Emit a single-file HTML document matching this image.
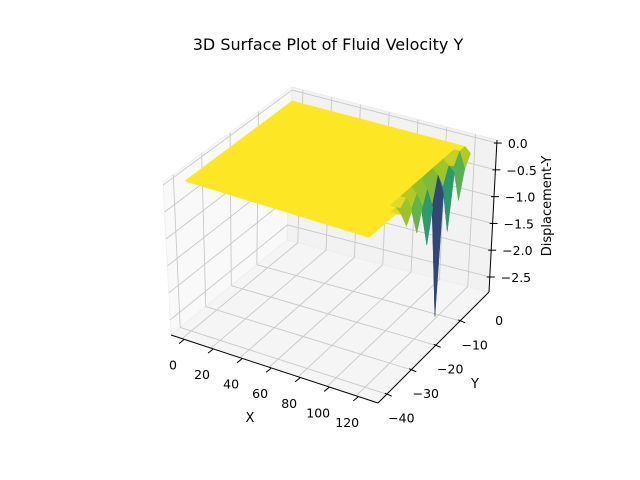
<!DOCTYPE html>
<html><head><meta charset="utf-8"><style>
html,body{margin:0;padding:0;background:#fff;}
svg{display:block;font-family:"DejaVu Sans","Liberation Sans",sans-serif;}
</style></head><body>
<svg id="chart" width="640" height="480" viewBox="0 0 640 480">
<rect width="640" height="480" fill="#fff"/>
<text x="328" y="50" text-anchor="middle" font-size="16" fill="#000">3D Surface Plot of Fluid Velocity Y</text>
<g id="panes"></g>
<g id="grid"></g>
<g id="axes"></g>
<g id="surface"></g>
<text x="250" y="422" text-anchor="middle" font-size="13">X</text>
<text x="475" y="388" text-anchor="middle" font-size="13">Y</text>
<text x="0" y="0" transform="translate(551,206) rotate(-90)" text-anchor="middle" font-size="13">Displacement-Y</text>
</svg>
<script>
// ---- data ----
const xs = [0,4,8,12,16,20,24,28,32,36,40,44,48,52,56,60,64,68,72,76,80,84,88,92,96,100,104,108,112,116,120,124];
const ys = [-30,-28,-26,-24,-22,-20,-18,-16,-14,-12,-10,-8,-6,-4,-2,0,2,4,6,8];
// displacement along the last three x columns (x=116,120,124), one value per y row; rest of surface is 0
const zCol116 = [0,0,0,0,0,0,0,0,0,0,0,0,0,0,0,0,0,0,0,0];
const zCol120 = [0,0,0,0,0,0,0,-0.1,0,-0.3,-0.1,-0.5,-0.2,-0.6,-0.1,-0.4,-0.1,-0.2,0,0];
const zCol124 = [0,0,0,0,0,0,-0.1,-0.4,-0.2,-0.7,-0.3,-1.1,-0.5,-2.6,-0.4,-1.2,-0.2,-0.8,-0.3,-0.1];
const xTicks = [0,20,40,60,80,100,120];
const yTicks = [-40,-30,-20,-10,0];
const zTicks = [0,-0.5,-1,-1.5,-2,-2.5];
const zTickLabels = ["0.0","\u22120.5","\u22121.0","\u22121.5","\u22122.0","\u22122.5"];

// ---- projection (axis box) ----
const XR=[-7.6,135], YR=[-33.6,11.8], ZR=[-2.78,0.057];
const C={
 "000":[171,335],"100":[378,403],"010":[287,240],"110":[489,292],
 "001":[163,182],"101":[376,248],"011":[292,87],"111":[497,140]};
function lerp(a,b,t){return [a[0]+(b[0]-a[0])*t,a[1]+(b[1]-a[1])*t];}
function projUVW(u,v,w){
  const a=lerp(C["000"],C["100"],u), b=lerp(C["010"],C["110"],u);
  const c=lerp(C["001"],C["101"],u), d=lerp(C["011"],C["111"],u);
  return lerp(lerp(a,b,v),lerp(c,d,v),w);
}
const U=x=>(x-XR[0])/(XR[1]-XR[0]), V=y=>(y-YR[0])/(YR[1]-YR[0]), W=z=>(z-ZR[0])/(ZR[1]-ZR[0]);
function P(x,y,z){return projUVW(U(x),V(y),W(z));}
const NS='http://www.w3.org/2000/svg';
function mk(tag,attrs,parent){const e=document.createElementNS(NS,tag);for(const k in attrs)e.setAttribute(k,attrs[k]);parent.appendChild(e);return e;}
const pts=a=>a.map(p=>p[0].toFixed(1)+','+p[1].toFixed(1)).join(' ');

// panes
const panes=document.getElementById('panes');
let pn=mk('polygon',{points:pts([projUVW(0,0,0),projUVW(0,1,0),projUVW(0,1,1),projUVW(0,0,1)]),fill:'#f9f9f9',stroke:'#f0f0f0'},panes);

pn=mk('polygon',{points:pts([projUVW(0,1,0),projUVW(1,1,0),projUVW(1,1,1),projUVW(0,1,1)]),fill:'#f2f2f2',stroke:'#ebebeb'},panes);

pn=mk('polygon',{points:pts([projUVW(0,0,0),projUVW(1,0,0),projUVW(1,1,0),projUVW(0,1,0)]),fill:'#f5f5f5',stroke:'#eeeeee'},panes);


// gridlines
const grid=document.getElementById('grid');
function gl(a,b,name){const l=mk('line',{x1:a[0],y1:a[1],x2:b[0],y2:b[1],stroke:'#c8c8c8','stroke-width':0.9},grid);
 }
xTicks.forEach(t=>{const u=U(t);if(u<0||u>1)return;
 gl(projUVW(u,0,0),projUVW(u,1,0),'x-gridline');gl(projUVW(u,1,0),projUVW(u,1,1),'x-gridline');});
yTicks.forEach(t=>{const v=V(t);if(v<0||v>1)return;
 gl(projUVW(0,v,0),projUVW(1,v,0),'y-gridline');gl(projUVW(0,v,0),projUVW(0,v,1),'y-gridline');});
zTicks.forEach(t=>{const w=W(t);if(w<0||w>1)return;
 gl(projUVW(0,0,w),projUVW(0,1,w),'z-gridline');gl(projUVW(0,1,w),projUVW(1,1,w),'z-gridline');});

// axes lines + ticks
const axes=document.getElementById('axes');
function al(a,b,name){const l=mk('line',{x1:a[0],y1:a[1],x2:b[0],y2:b[1],stroke:'#000','stroke-width':1},axes);
 }
al(projUVW(0,0,0),projUVW(1,0,0),'x-axis-line');
al(projUVW(1,0,0),projUVW(1,1,0),'y-axis-line');
al(projUVW(1,1,0),projUVW(1,1,1),'z-axis-line');
function txt(s,x,y,anchor,name){const t=mk('text',{x:x,y:y,'text-anchor':anchor,'font-size':12.5,fill:'#000'},axes);t.textContent=s;
 }
xTicks.forEach(t=>{const p=projUVW(U(t),0,0);
 al([p[0]+2,p[1]+1],[p[0]-3,p[1]+5],'x-tick');
 txt(String(t),p[0]-9,p[1]+31,'middle','x-tick-label');});
yTicks.forEach(t=>{const p=projUVW(1,V(t),0);
 if(V(t)>=0) al([p[0]-2,p[1]-1],[p[0]+5,p[1]+2],'y-tick');
 txt(String(t).replace('-','\u2212'),p[0]+39,p[1]+4,'middle','y-tick-label');});
zTicks.forEach((t,i)=>{const p=projUVW(1,1,W(t));
 al([p[0]-3,p[1]],[p[0]+5,p[1]],'z-tick');
 txt(zTickLabels[i],p[0]+11,p[1]+5,'start','z-tick-label');});

// viridis
const VIR=[[68,1,84],[72,40,120],[62,74,137],[49,104,142],[38,130,142],[31,158,137],[53,183,121],[109,205,89],[180,222,44],[253,231,37]];
function viridis(t){t=Math.max(0,Math.min(1,t))*(VIR.length-1);const i=Math.min(Math.floor(t),VIR.length-2),f=t-i;
 return VIR[i].map((c,k)=>c+(VIR[i+1][k]-c)*f);}

// surface
function zAt(i,j){ if(i===xs.length-1) return zCol124[j]; if(i===xs.length-2) return zCol120[j]; if(i===xs.length-3) return zCol116[j]; return 0;}
const allZ=[].concat(zCol116,zCol120,zCol124,[0]);
const zmin=Math.min(...allZ), zmax=Math.max(...allZ);
const faces=[];
for(let i=0;i<xs.length-1;i++)for(let j=0;j<ys.length-1;j++){
 const q=[[i,j],[i+1,j],[i+1,j+1],[i,j+1]].map(([a,b])=>[xs[a],ys[b],zAt(a,b)]);
 const zm=Math.min(...q.map(p=>p[2]))*0.6+q.reduce((s,p)=>s+p[2],0)/4*0.4;
 const key=U((xs[i]+xs[i+1])/2)-V((ys[j]+ys[j+1])/2);
 const ax=[q[2][0]-q[0][0],q[2][1]-q[0][1],(q[2][2]-q[0][2])*40], bx=[q[3][0]-q[1][0],q[3][1]-q[1][1],(q[3][2]-q[1][2])*40];
 let n=[ax[1]*bx[2]-ax[2]*bx[1],ax[2]*bx[0]-ax[0]*bx[2],ax[0]*bx[1]-ax[1]*bx[0]];
 const nl=Math.hypot(...n)||1;n=n.map(c=>c/nl);
 const shade=0.85+0.15*Math.abs(n[2]);
 faces.push({q,zm,key,shade});
}
faces.sort((a,b)=>a.key-b.key);
const surf=document.getElementById('surface');
faces.forEach(f=>{
 const c=viridis((f.zm-zmin)/(zmax-zmin)).map(v=>Math.round(Math.min(255,v*f.shade)));
 const col='rgb('+c.join(',')+')';
 const poly=mk('polygon',{points:pts(f.q.map(p=>P(p[0],p[1],p[2]))),fill:col,stroke:col,'stroke-width':0.5,'stroke-linejoin':'round'},surf);
 
 
});
</script>
</body></html>
